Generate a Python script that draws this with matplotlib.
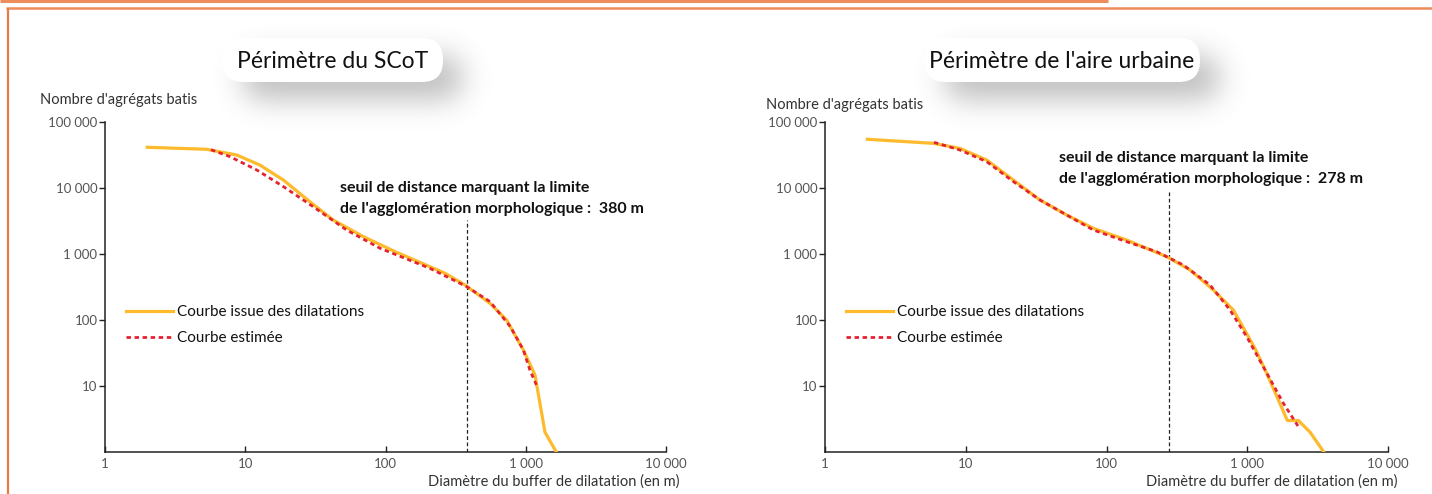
import numpy as np
import matplotlib
matplotlib.use('Agg')
import matplotlib.pyplot as plt
from matplotlib.patches import FancyBboxPatch
from matplotlib.lines import Line2D

# ---------------- data ----------------
x_ticks = [1, 10, 100, 1000, 10000]
x_tick_labels = ['1', '10', '100', '1 000', '10 000']
y_ticks = [10, 100, 1000, 10000, 100000]
y_tick_labels = ['10', '100', '1 000', '10 000', '100 000']

titles = ["Périmètre du SCoT", "Périmètre de l'aire urbaine"]
legend_labels = ["Courbe issue des dilatations", "Courbe estimée"]
x_label = "Diamètre du buffer de dilatation (en m)"
y_label = "Nombre d'agrégats batis"
annot_line1 = "seuil de distance marquant la limite"
annot_line2 = "de l'agglomération morphologique :  {} m"

scot_obs_x = [2.0, 5.3, 8.7, 12.7, 18.7, 28.9, 42.4, 69.5, 120, 207, 266, 369, 556, 731, 962, 1164, 1371, 1650]
scot_obs_y = [41400, 38600, 31600, 22300, 13200, 6190, 3270, 1830, 1060, 643, 510, 339, 179, 100, 35, 14.7, 2, 1]
scot_est_x = [5.7, 7.8, 12.1, 18.7, 30.5, 52.8, 91.6, 207, 259, 379, 556, 778, 962, 1070, 1190]
scot_est_y = [38000, 29800, 18700, 10500, 5210, 2310, 1220, 607, 480, 320, 190, 79, 35, 17.5, 10.4]
scot_seuil = 380

au_obs_x = [2.0, 5.9, 9.1, 14.1, 21.8, 33.7, 52.1, 80.6, 139, 268, 392, 574, 796, 1136, 1374, 1927, 2308, 2793, 3500]
au_obs_y = [54700, 47500, 39800, 26500, 13200, 6580, 3900, 2450, 1630, 910, 573, 285, 142, 37, 15.6, 3, 3, 2, 1]
au_est_x = [5.95, 9.1, 14.1, 21.8, 33.7, 52.1, 80.6, 139, 227, 352, 544, 754, 991, 1300, 1803, 2308]
au_est_y = [49200, 37600, 25000, 12500, 6580, 3900, 2310, 1535, 1085, 680, 339, 142, 55.9, 19.6, 5.5, 2.42]
au_seuil = 278

# ---------------- style ----------------
W, H = 1432, 494
YELLOW = '#FDBA2C'
RED = '#E52330'
ORANGE = '#EF8C5C'
SANS = ['Lato', 'DejaVu Sans']

fig = plt.figure(figsize=(W / 100, H / 100), dpi=100)
fig.patch.set_facecolor('white')


def fx(px):
    return px / W


def fy(py):
    return 1 - py / H


# overlay (behind charts) in pixel coordinates
ov = fig.add_axes([0, 0, 1, 1], zorder=0)
ov.set_axis_off()
ov.patch.set_visible(False)

# frame lines
ov.plot([0, 1108], [1, 1], color=ORANGE, lw=2.2, solid_capstyle='butt')
ov.plot([6, W], [8.5, 8.5], color=ORANGE, lw=1.8, solid_capstyle='butt')
ov.plot([7.5, 7.5], [8, H], color='#EA7A43', lw=1.6, solid_capstyle='butt')


def rounded_mask(nx, ny, cx, cy, w, h, r):
    xx, yy = np.meshgrid(np.arange(nx) + 0.5, np.arange(ny) + 0.5)
    dx = np.maximum(np.abs(xx - cx) - (w / 2 - r), 0)
    dy = np.maximum(np.abs(yy - cy) - (h / 2 - r), 0)
    return (dx ** 2 + dy ** 2 <= r ** 2).astype(float)


def blur(a, sigma):
    k = int(3 * sigma)
    t = np.arange(-k, k + 1)
    g = np.exp(-t ** 2 / (2 * sigma ** 2))
    g /= g.sum()
    a = np.apply_along_axis(lambda m: np.convolve(m, g, mode='same'), 0, a)
    a = np.apply_along_axis(lambda m: np.convolve(m, g, mode='same'), 1, a)
    return a


def title_box(x0, x1, y0, y1, text):
    pad = 90
    gx0, gx1, gy0, gy1 = x0 - pad, x1 + pad, y0 - pad, y1 + pad
    nx, ny = gx1 - gx0, gy1 - gy0
    w, h = x1 - x0, y1 - y0
    m = rounded_mask(nx, ny, (x0 + x1) / 2 - gx0 + 20, (y0 + y1) / 2 - gy0 + 18, w, h, 20)
    m = blur(m, 14) * 0.40
    img = np.zeros((ny, nx, 4))
    img[..., 0:3] = 0.38
    img[..., 3] = m
    ov.imshow(img, extent=(gx0, gx1, gy1, gy0), origin='upper', aspect='auto',
              interpolation='bilinear', zorder=1)
    box = FancyBboxPatch((x0, y0), w, h, boxstyle='round,pad=0,rounding_size=21',
                         facecolor='white', edgecolor='none', zorder=2)
    ov.add_patch(box)
    ov.text((x0 + x1) / 2, (y0 + y1) / 2 + 1, text, ha='center', va='center',
            fontsize=16.5, family=SANS, color='#111111', zorder=3)


title_box(222, 443, 38, 82, titles[0])
title_box(924, 1200, 38, 82, titles[1])
ov.set_xlim(0, W)
ov.set_ylim(H, 0)


def make_chart(px0, px1, obs_x, obs_y, est_x, est_y, seuil, seuil_top,
               ylab_xy, annot_xy, legend_xy, xlab_xy):
    ax = fig.add_axes([fx(px0), fy(452), (px1 - px0) / W, 330 / H], zorder=1)
    ax.patch.set_alpha(0)
    ax.set_xscale('log')
    ax.set_yscale('log')
    ax.set_xlim(1, 10000)
    ax.set_ylim(1, 100000)
    for s in ['top', 'right']:
        ax.spines[s].set_visible(False)
    for s in ['left', 'bottom']:
        ax.spines[s].set_linewidth(1.1)
        ax.spines[s].set_color('#222222')
    ax.set_xticks(x_ticks)
    ax.set_xticklabels(x_tick_labels)
    ax.set_yticks(y_ticks)
    ax.set_yticklabels(y_tick_labels)
    ax.minorticks_off()
    ax.tick_params(axis='x', direction='in', length=4, width=1, pad=4,
                   labelsize=9.5, labelcolor='#555555', color='#222222')
    ax.tick_params(axis='y', direction='out', length=4, width=1, pad=1.5,
                   labelsize=9.5, labelcolor='#555555', color='#222222')
    for lab in ax.get_xticklabels() + ax.get_yticklabels():
        lab.set_family(SANS)

    ax.plot([seuil, seuil], [1, seuil_top], color='#222222', lw=0.9,
            dashes=(3, 2), zorder=2)
    ax.plot(obs_x, obs_y, color=YELLOW, lw=2.3, zorder=3, clip_on=True,
            solid_joinstyle='round')
    ax.plot(est_x, est_y, color=RED, lw=2.0, dashes=(1.6, 1.3), zorder=4)

    fig.text(fx(ylab_xy[0]), fy(ylab_xy[1]), y_label, ha='left', va='center',
             fontsize=10.5, family=SANS, color='#333333')
    fig.text(fx(xlab_xy[0]), fy(xlab_xy[1]), x_label, ha='right', va='center',
             fontsize=10.5, family=SANS, color='#333333')
    fig.text(fx(annot_xy[0]), fy(annot_xy[1]), annot_line1, ha='left', va='center',
             fontsize=11.5, family=SANS, weight='bold', color='#111111')
    fig.text(fx(annot_xy[0]), fy(annot_xy[1] + 20.5), annot_line2.format(seuil),
             ha='left', va='center', fontsize=11.5, family=SANS, weight='bold',
             color='#111111')

    handles = [Line2D([], [], color=YELLOW, lw=2.3),
               Line2D([], [], color=RED, lw=2.0, dashes=(1.6, 1.3))]
    leg = fig.legend(handles, legend_labels, loc='center left',
                     bbox_to_anchor=(fx(legend_xy[0]), fy(legend_xy[1])),
                     frameon=False, handlelength=3.1, handletextpad=0.25,
                     labelspacing=0.78, borderpad=0, borderaxespad=0,
                     prop={'family': SANS, 'size': 11})
    for t in leg.get_texts():
        t.set_color('#111111')
    return ax


make_chart(105, 666, scot_obs_x, scot_obs_y, scot_est_x, scot_est_y, scot_seuil, 3275,
           (40, 100), (340, 188), (126, 325), (679, 482))
make_chart(825, 1388, au_obs_x, au_obs_y, au_est_x, au_est_y, au_seuil, 9300,
           (766, 105), (1059, 158), (846, 325), (1398, 482))

fig.savefig('out.png', dpi=100, facecolor='white')
